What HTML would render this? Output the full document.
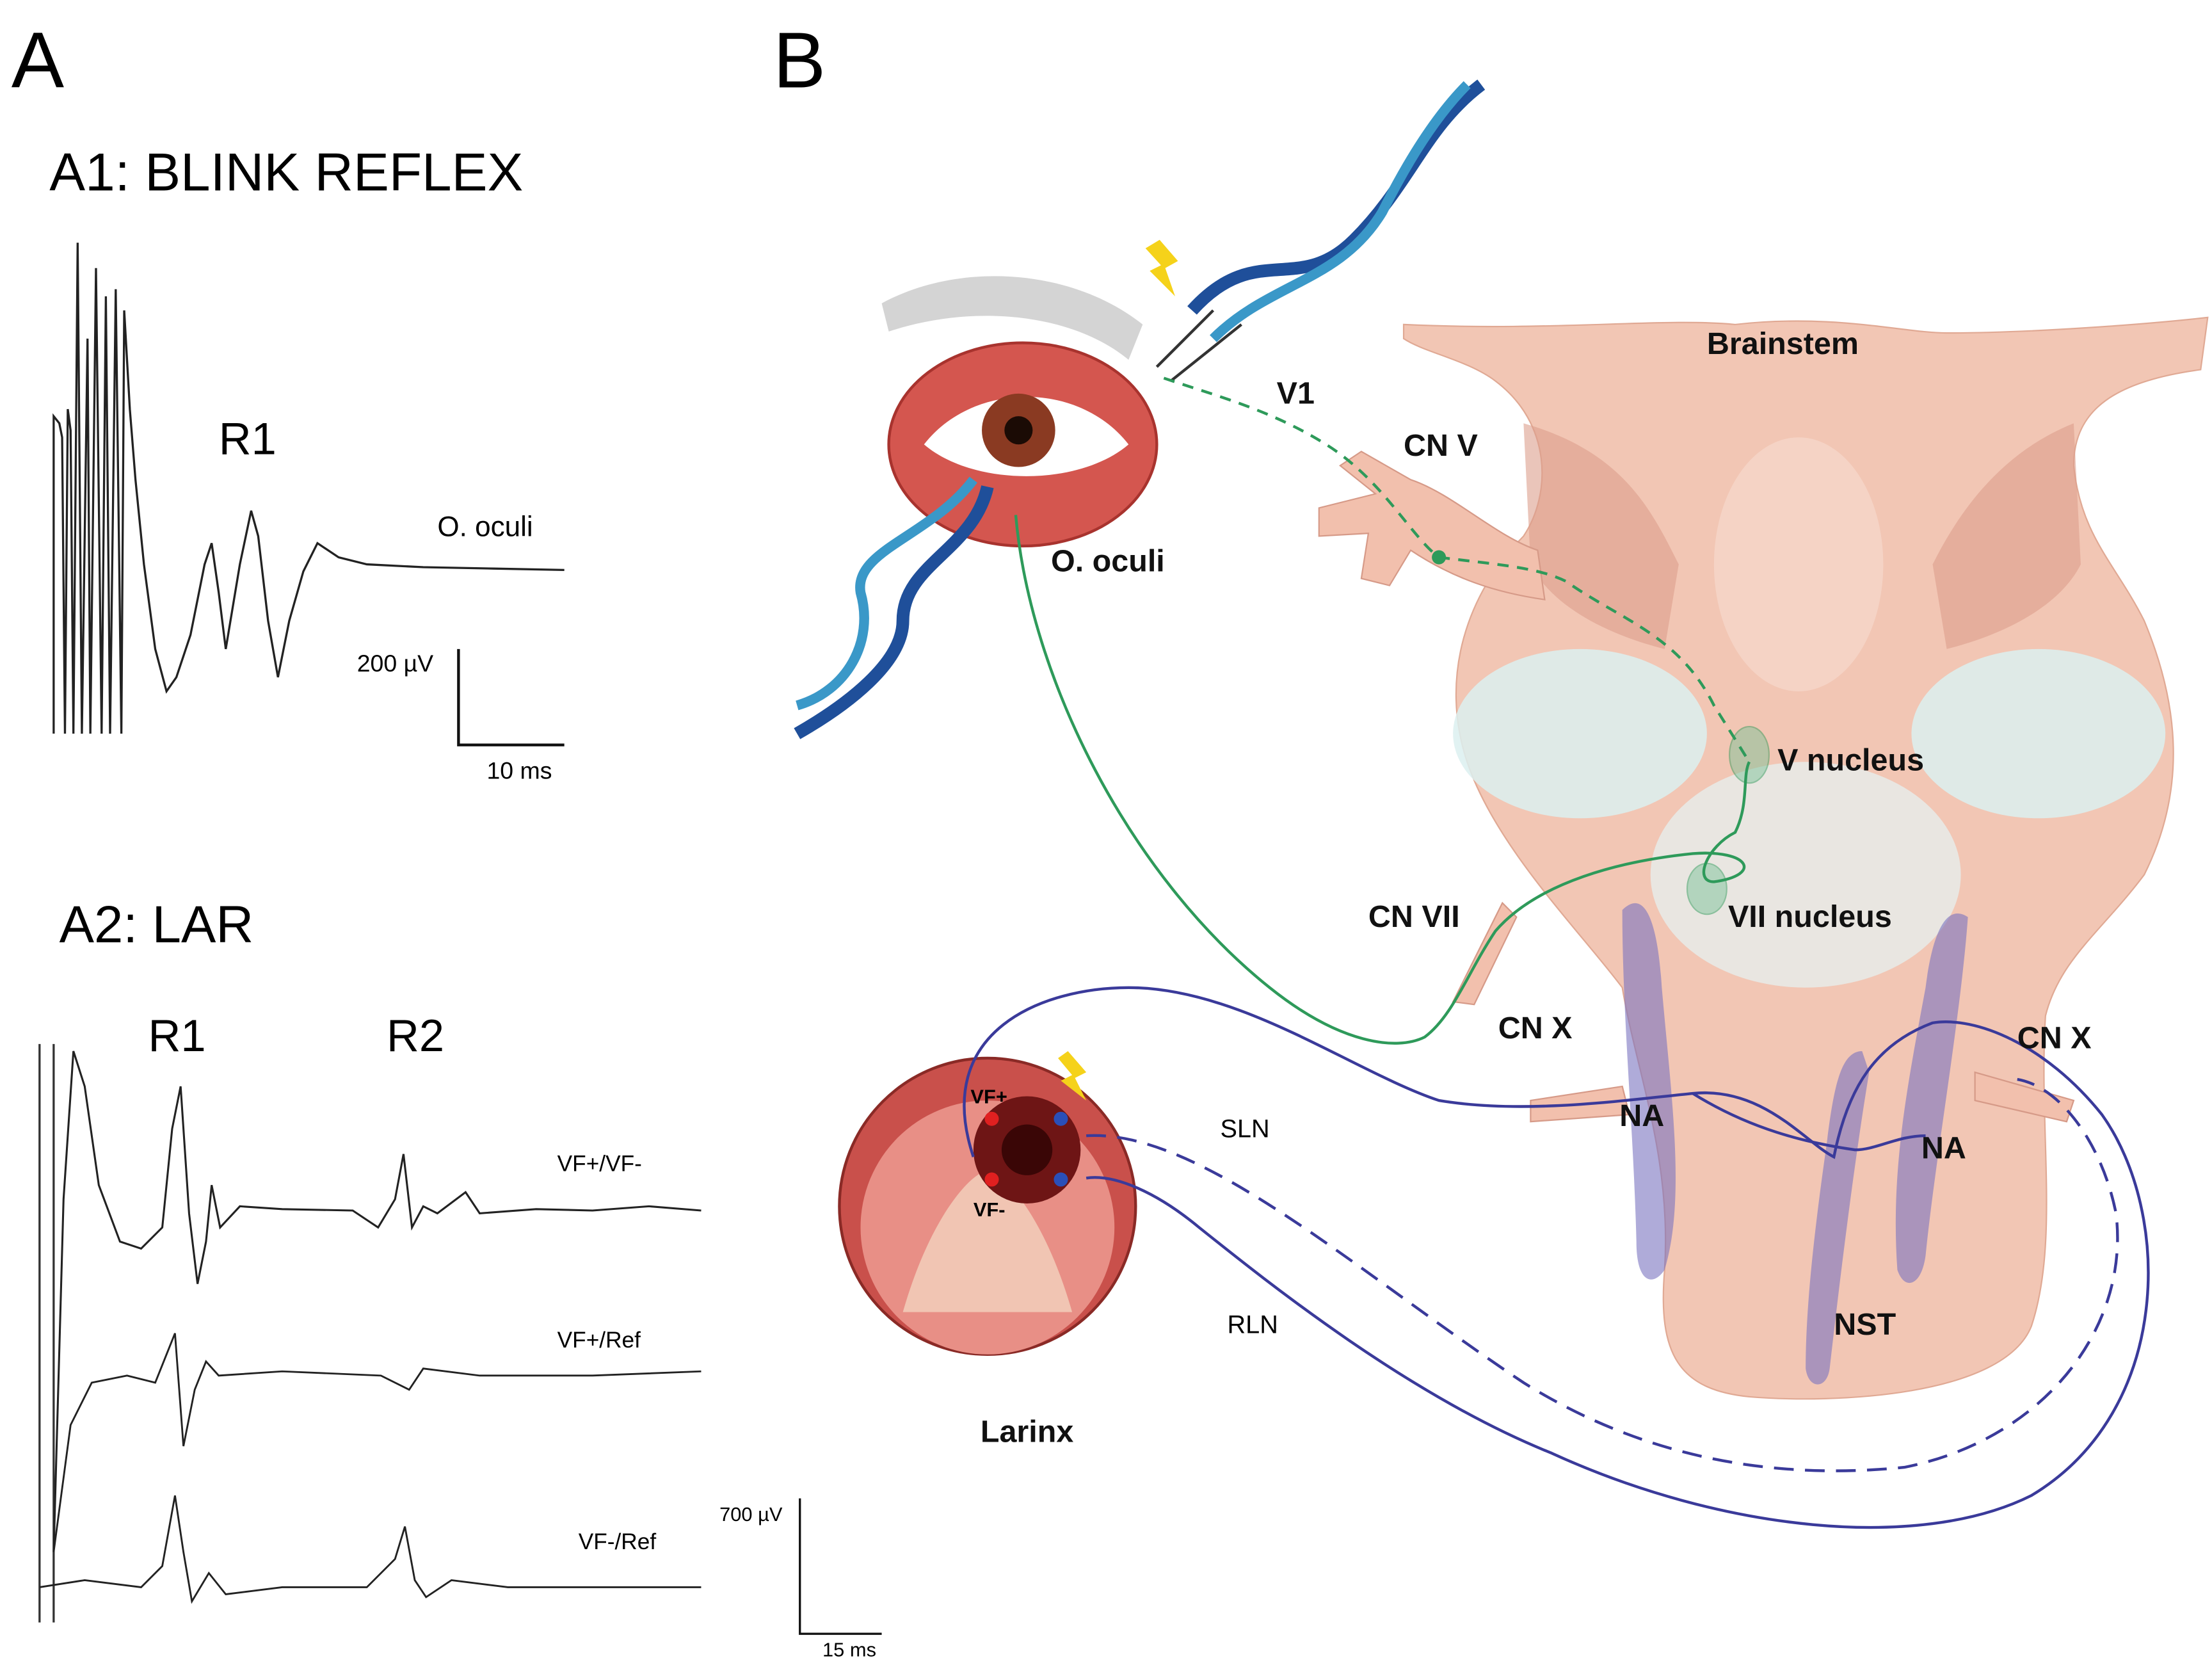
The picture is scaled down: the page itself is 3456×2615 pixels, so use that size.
<!DOCTYPE html>
<html><head><meta charset="utf-8"><style>
html,body{margin:0;padding:0;background:#fff;}
svg{display:block;}
text{font-family:"Liberation Sans",Arial,sans-serif;}
.b{font-weight:bold;font-size:22px;fill:#111;}
</style></head><body>
<svg width="3456" height="2615" viewBox="0 0 1568 1186.5" xmlns="http://www.w3.org/2000/svg">
<rect width="1568" height="1187" fill="#fff"/>
<text x="8" y="62" font-size="56">A</text>
<text x="548" y="62" font-size="56">B</text>
<text x="35" y="135" font-size="38">A1: BLINK REFLEX</text>
<path d="M38,520 L38,295 L42,300 L44,310 L46,520 L48,290 L50,305 L52,520 L55,172 L58,520 L62,240 L64,520 L68,190 L72,520 L75,210 L78,520 L82,205 L86,520 L88,220 L92,290 L96,340 L102,400 L110,460 L118,490 L125,480 L135,450 L145,400 L150,385 L155,420 L160,460 L170,400 L178,362 L183,380 L190,440 L197,480 L205,440 L215,405 L225,385 L240,395 L260,400 L300,402 L350,403 L400,404" fill="none" stroke="#222" stroke-width="1.5"/>
<text x="155" y="322" font-size="32">R1</text>
<text x="310" y="380" font-size="20">O. oculi</text>
<path d="M325,460 V528 H400" fill="none" stroke="#111" stroke-width="2"/>
<text x="253" y="476" font-size="17">200 µV</text>
<text x="345" y="552" font-size="17">10 ms</text>

<text x="42" y="668" font-size="37">A2: LAR</text>
<text x="105" y="745" font-size="32">R1</text>
<text x="274" y="745" font-size="32">R2</text>
<path d="M28,740 V1150 M38,740 V1150" stroke="#333" stroke-width="1.5"/>
<path d="M38,1100 L45,850 L52,745 L60,770 L70,840 L85,880 L100,885 L115,870 L122,800 L128,770 L134,860 L140,910 L146,880 L150,840 L156,870 L170,855 L200,857 L250,858 L268,870 L280,850 L286,818 L292,870 L300,855 L310,860 L330,845 L340,860 L380,857 L420,858 L460,855 L497,858" fill="none" stroke="#222" stroke-width="1.4"/>
<path d="M38,1100 L50,1010 L65,980 L90,975 L110,980 L118,960 L124,945 L130,1025 L138,985 L146,965 L155,975 L200,972 L270,975 L290,985 L300,970 L340,975 L420,975 L497,972" fill="none" stroke="#222" stroke-width="1.3"/>
<path d="M28,1125 L60,1120 L100,1125 L115,1110 L124,1060 L130,1100 L136,1135 L148,1115 L160,1130 L200,1125 L260,1125 L280,1105 L287,1082 L294,1120 L302,1132 L320,1120 L360,1125 L420,1125 L497,1125" fill="none" stroke="#222" stroke-width="1.3"/>
<text x="395" y="830" font-size="16">VF+/VF-</text>
<text x="395" y="955" font-size="16">VF+/Ref</text>
<text x="410" y="1098" font-size="16">VF-/Ref</text>
<path d="M567,1062 V1158 H625" fill="none" stroke="#111" stroke-width="1.5"/>
<text x="510" y="1078" font-size="14">700 µV</text>
<text x="583" y="1174" font-size="14">15 ms</text>

<path d="M995,230 C1100,235 1180,225 1230,230 C1300,222 1350,236 1380,236 C1440,236 1520,230 1565,225 L1560,262 C1500,270 1470,290 1470,330 C1475,380 1500,400 1520,440 C1545,500 1550,560 1520,620 C1490,660 1460,680 1450,720 C1445,800 1460,880 1440,940 C1420,990 1300,995 1240,990 C1190,985 1175,960 1180,900 C1185,820 1160,760 1150,700 C1120,660 1060,600 1040,540 C1020,480 1040,420 1080,380 C1100,350 1100,300 1060,270 C1040,255 1010,250 995,240 Z" fill="#f2c6b4" stroke="#e0a994" stroke-width="1"/>
<path d="M1080,300 C1150,320 1170,360 1190,400 L1180,460 C1140,450 1100,430 1085,400 Z" fill="#dc9e8c" opacity=".6"/>
<path d="M1470,300 C1420,320 1390,360 1370,400 L1380,460 C1420,450 1460,430 1475,400 Z" fill="#dc9e8c" opacity=".6"/>
<ellipse cx="1120" cy="520" rx="90" ry="60" fill="#dcf0f0" opacity=".85"/>
<ellipse cx="1445" cy="520" rx="90" ry="60" fill="#dcf0f0" opacity=".85"/>
<ellipse cx="1280" cy="620" rx="110" ry="80" fill="#e6f0f0" opacity=".75"/>
<ellipse cx="1275" cy="400" rx="60" ry="90" fill="#f6d9cc" opacity=".7"/>
<path d="M1090,390 C1060,380 1030,350 1000,340 L965,320 L950,330 L975,350 L935,360 L935,380 L970,378 L965,410 L985,415 L1000,390 C1030,410 1060,420 1095,425 Z" fill="#f2c0ad" stroke="#d69a88"/>
<path d="M1150,770 L1085,780 L1085,795 L1155,790 Z" fill="#f2c0ad" stroke="#d69a88"/>
<path d="M1400,760 L1470,780 L1465,795 L1400,780 Z" fill="#f2c0ad" stroke="#d69a88"/>
<path d="M1030,710 L1065,640 L1075,650 L1045,712 Z" fill="#f2c0ad" stroke="#d69a88"/>
<path d="M1150,645 C1165,630 1175,650 1178,700 C1185,780 1195,850 1180,900 C1172,912 1160,910 1160,880 C1158,800 1150,720 1150,645 Z" fill="#7a73c0" opacity=".6"/>
<path d="M1395,650 C1380,640 1370,660 1365,700 C1352,770 1340,830 1345,900 C1350,915 1362,912 1365,890 C1372,820 1390,720 1395,650 Z" fill="#7a73c0" opacity=".6"/>
<path d="M1320,745 C1305,745 1300,770 1295,810 C1285,880 1280,930 1280,970 C1282,985 1295,985 1297,970 C1305,900 1315,820 1325,760 Z" fill="#7a73c0" opacity=".6"/>
<ellipse cx="1240" cy="535" rx="14" ry="20" fill="#7dc49a" opacity=".5" stroke="#2e9a5a"/>
<ellipse cx="1210" cy="630" rx="14" ry="18" fill="#7dc49a" opacity=".5" stroke="#2e9a5a"/>

<path d="M625,215 C680,185 760,190 810,230 L800,255 C760,222 690,215 630,235 Z" fill="#c9c9c9" opacity=".8"/>
<ellipse cx="725" cy="315" rx="95" ry="72" fill="#d4564f"/>
<ellipse cx="725" cy="315" rx="95" ry="72" fill="none" stroke="#a8332e" stroke-width="2"/>
<path d="M655,315 C690,270 765,270 800,315 C765,345 690,345 655,315 Z" fill="#fff"/>
<circle cx="722" cy="305" r="26" fill="#8a3a22"/>
<circle cx="722" cy="305" r="10" fill="#1b0b05"/>
<path d="M565,520 C600,500 640,470 640,440 C640,400 690,390 700,345" fill="none" stroke="#1f4f9a" stroke-width="9"/>
<path d="M565,500 C600,490 620,455 610,420 C605,390 660,380 690,340" fill="none" stroke="#3a98c8" stroke-width="7"/>
<path d="M845,220 C890,170 920,210 960,170 C1000,130 1010,90 1050,60" fill="none" stroke="#1f4f9a" stroke-width="9"/>
<path d="M860,240 C900,200 950,200 980,150 C1000,110 1020,80 1040,60" fill="none" stroke="#3a98c8" stroke-width="7"/>
<path d="M820,260 L860,220 M830,270 L880,230" stroke="#333" stroke-width="2"/>
<polygon points="822,170 835,185 826,190 833,210 815,192 823,188 812,176" fill="#f5d21a"/>

<circle cx="700" cy="855" r="105" fill="#c9504b" stroke="#8a2a26" stroke-width="2"/>
<circle cx="700" cy="870" r="90" fill="#e88f86"/>
<path d="M640,930 C660,860 690,830 700,830 C710,830 740,860 760,930 Z" fill="#f1c5b3"/>
<circle cx="728" cy="815" r="38" fill="#6e1515"/>
<circle cx="728" cy="815" r="18" fill="#3a0606"/>
<circle cx="703" cy="793" r="5" fill="#e02020"/><circle cx="703" cy="836" r="5" fill="#e02020"/>
<circle cx="752" cy="793" r="5" fill="#2a4fb8"/><circle cx="752" cy="836" r="5" fill="#2a4fb8"/>
<polygon points="757,745 770,760 762,764 770,780 752,766 760,762 750,750" fill="#f5d21a"/>

<path d="M825,268 C860,280 900,290 940,315 C980,340 1000,380 1020,395 C1060,400 1090,402 1110,412 C1150,440 1190,450 1215,500 L1240,540" fill="none" stroke="#2e9a5a" stroke-width="2" stroke-dasharray="8,6"/>
<circle cx="1020" cy="395" r="5" fill="#2e9a5a"/>
<path d="M720,365 C730,480 800,620 900,700 C950,740 990,745 1010,735 C1030,720 1040,690 1060,660 C1090,625 1150,610 1200,605 C1240,602 1250,620 1215,625 C1200,625 1210,600 1230,590 C1240,570 1235,550 1240,540" fill="none" stroke="#2e9a5a" stroke-width="2"/>

<path d="M690,820 C660,730 740,700 800,700 C880,700 960,760 1020,780 C1080,790 1150,780 1200,775 C1250,770 1280,810 1300,820 C1310,770 1330,740 1370,725 C1400,720 1450,740 1490,790 C1540,860 1540,1000 1440,1060 C1360,1100 1220,1085 1100,1030 C1000,990 900,910 850,870 C820,845 790,832 770,835" fill="none" stroke="#3a3a9a" stroke-width="2"/>
<path d="M770,805 C850,800 960,900 1080,980 C1160,1030 1250,1050 1350,1040 C1450,1020 1510,940 1500,860 C1490,810 1460,770 1430,765" fill="none" stroke="#3a3a9a" stroke-width="2" stroke-dasharray="14,8"/>
<path d="M1200,775 C1240,800 1280,810 1315,815 C1330,815 1345,805 1365,805" fill="none" stroke="#3a3a9a" stroke-width="2"/>

<text class="b" x="1210" y="251">Brainstem</text>
<text class="b" x="905" y="286">V1</text>
<text class="b" x="995" y="323">CN V</text>
<text class="b" x="745" y="405">O. oculi</text>
<text class="b" x="1260" y="546">V nucleus</text>
<text class="b" x="1225" y="657">VII nucleus</text>
<text class="b" x="970" y="657">CN VII</text>
<text class="b" x="1062" y="736">CN X</text>
<text class="b" x="1430" y="743">CN X</text>
<text class="b" x="1148" y="798">NA</text>
<text class="b" x="1362" y="821">NA</text>
<text class="b" x="1300" y="946">NST</text>
<text class="b" x="695" y="1022">Larinx</text>
<text x="865" y="806" font-size="18">SLN</text>
<text x="870" y="945" font-size="18">RLN</text>
<text x="688" y="782" font-size="14" font-weight="bold">VF+</text>
<text x="690" y="862" font-size="14" font-weight="bold">VF-</text>
</svg>
</body></html>
